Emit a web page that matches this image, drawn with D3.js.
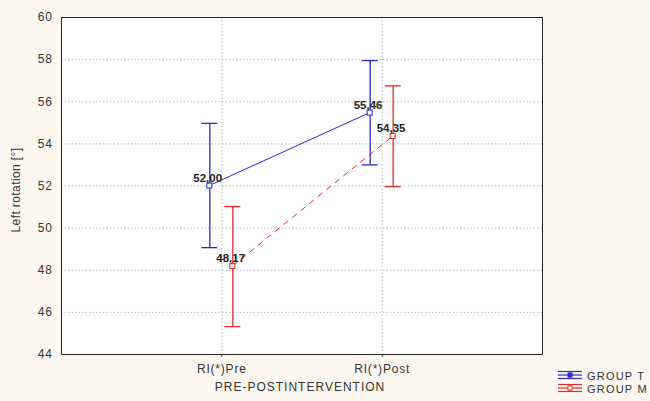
<!DOCTYPE html>
<html><head><meta charset="utf-8">
<script src="https://cdn.jsdelivr.net/npm/d3@7"></script>
<style>body{margin:0;background:#fdf8ef;}svg{display:block;font-family:"Liberation Sans",Arial,sans-serif;}</style>
</head><body>
<script>
const categories = ["RI(*)Pre", "RI(*)Post"];
const groups = ["GROUP T", "GROUP M"];
const meanT = [52.00, 55.46];
const lowT = [49.05, 52.98];
const highT = [54.95, 57.93];
const meanM = [48.17, 54.35];
const lowM = [45.30, 51.95];
const highM = [51.00, 56.73];
const labelsT = ["52,00", "55,46"];
const labelsM = ["48,17", "54,35"];
const yTicks = [44, 46, 48, 50, 52, 54, 56, 58, 60];

const W = 650, H = 401;
const m = {l: 61, r: 108, t: 17, b: 47};
const svg = d3.select("body").append("svg").attr("width", W).attr("height", H);
svg.append("rect").attr("width", W).attr("height", H).attr("fill", "#fdf8ef");

const x = d3.scalePoint().domain(categories).range([m.l, W - m.r]).padding(1);
const y = d3.scaleLinear().domain([44, 60]).range([H - m.b, m.t]);

svg.append("rect").attr("x", m.l).attr("y", m.t).attr("width", W - m.r - m.l).attr("height", H - m.b - m.t).attr("fill", "#fff");

// grid
svg.append("g").selectAll("line").data(yTicks.filter(d => d > 44 && d < 60)).join("line")
  .attr("x1", m.l).attr("x2", W - m.r).attr("y1", d => y(d) + 0.5).attr("y2", d => y(d) + 0.5)
  .attr("stroke", "#bbb").attr("stroke-dasharray", "1.5,2");
svg.append("g").selectAll("line").data(categories).join("line")
  .attr("y1", m.t).attr("y2", H - m.b).attr("x1", d => x(d) + 0.5).attr("x2", d => x(d) + 0.5)
  .attr("stroke", "#bbb").attr("stroke-dasharray", "1.5,2");

// axes
const ya = svg.append("g").attr("transform", `translate(${m.l},0)`)
  .call(d3.axisLeft(y).tickValues(yTicks).tickSize(0).tickPadding(8));
ya.select(".domain").remove();
ya.selectAll("text").attr("font-size", 12).attr("letter-spacing", 1).attr("fill", "#333").attr("font-family", "Liberation Sans, Arial, sans-serif");
const xa = svg.append("g").attr("transform", `translate(0,${H - m.b})`)
  .call(d3.axisBottom(x).tickSize(3).tickPadding(7));
xa.select(".domain").remove();
xa.selectAll("line").attr("stroke", "#333");
xa.selectAll("text").attr("font-size", 12).attr("letter-spacing", 0.8).attr("fill", "#333").attr("font-family", "Liberation Sans, Arial, sans-serif");

svg.append("rect").attr("x", m.l + 0.5).attr("y", m.t + 0.5).attr("width", W - m.r - m.l).attr("height", H - m.b - m.t)
  .attr("fill", "none").attr("stroke", "#222");

svg.append("text").attr("transform", `translate(20,${190}) rotate(-90)`)
  .attr("text-anchor", "middle").attr("font-size", 12).attr("letter-spacing", 0.4).attr("fill", "#333").text("Left rotation [°]");
svg.append("text").attr("x", 300).attr("y", 391).attr("text-anchor", "middle")
  .attr("font-size", 12).attr("letter-spacing", 1).attr("fill", "#333").text("PRE-POSTINTERVENTION");

function series(mean, low, high, labels, color, dx, dash) {
  const g = svg.append("g");
  const pts = categories.map((c, i) => ({c, i}));
  const X = d => x(d.c) + dx;
  g.append("path").datum(pts).attr("fill", "none").attr("stroke", color).attr("stroke-width", 1)
    .attr("stroke-dasharray", dash)
    .attr("d", d3.line().x(X).y(d => y(mean[d.i])));
  g.selectAll(".eb").data(pts).join("line").attr("x1", d => X(d) + 0.5).attr("x2", d => X(d) + 0.5)
    .attr("y1", d => y(low[d.i])).attr("y2", d => y(high[d.i])).attr("stroke", color).attr("stroke-width", 1.3);
  [low, high].forEach(arr => {
    g.selectAll(null).data(pts).join("line").attr("x1", d => X(d) - 8).attr("x2", d => X(d) + 8)
      .attr("y1", d => y(arr[d.i])).attr("y2", d => y(arr[d.i])).attr("stroke", color).attr("stroke-width", 1.3);
  });
  g.selectAll("rect").data(pts).join("rect").attr("x", d => X(d) - 2.5).attr("y", d => y(mean[d.i]) - 2.5)
    .attr("width", 5).attr("height", 5).attr("fill", "#fff").attr("stroke", color).attr("stroke-width", 1);
  g.selectAll("text").data(pts).join("text").attr("x", d => X(d) - 16).attr("y", d => y(mean[d.i]) - 4)
    .attr("font-size", 11.5).attr("font-weight", "bold").attr("fill", "#222").text(d => labels[d.i]);
}
series(meanT, lowT, highT, labelsT, "#2a2ad0", -12, null);
series(meanM, lowM, highM, labelsM, "#e02a2a", 11, "6,5");

// legend
const colors = ["#2a2ad0", "#e02a2a"];
const lg = svg.append("g");
groups.forEach((gname, i) => {
  const cy = 375 + i * 13;
  const gg = lg.append("g").attr("transform", `translate(558,${cy})`);
  [-3.5, 0, 3.5].forEach(o => gg.append("line").attr("x1", 0).attr("x2", 24).attr("y1", o).attr("y2", o)
    .attr("stroke", colors[i]).attr("stroke-width", 1.2));
  gg.append("line").attr("x1", 12).attr("x2", 12).attr("y1", -3.5).attr("y2", 3.5).attr("stroke", colors[i]);
  gg.append("rect").attr("x", 10).attr("y", -2).attr("width", 4).attr("height", 4).attr("fill", i ? "#fff" : colors[i]).attr("stroke", colors[i]);
  lg.append("text").attr("x", 587).attr("y", cy + 4.5).attr("font-size", 11).attr("letter-spacing", 1.2)
    .attr("fill", "#333").text(gname);
});
</script>
</body></html>
